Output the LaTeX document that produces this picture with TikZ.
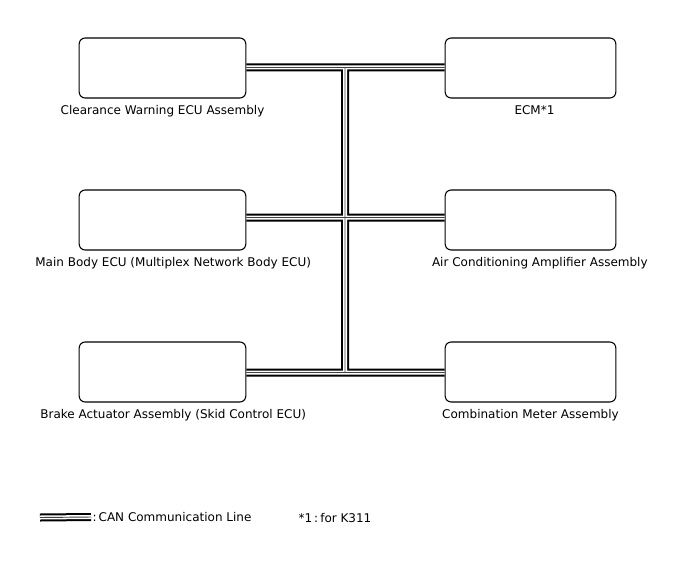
\documentclass[tikz,border=0pt]{standalone}
\usepackage{fontspec}
\setmainfont{DejaVu Sans}
\usepackage{tikz}
\usetikzlibrary{positioning, calc}

\begin{document}
\begin{tikzpicture}[
    x=0.75pt, y=-0.75pt,
    ecu/.style={rectangle, draw, rounded corners=4.5pt, line width=0.8pt,
                minimum width=125pt, minimum height=45pt, inner sep=0pt},
    lbl/.style={font=\fontsize{9}{11}\selectfont, inner sep=1pt}
]
\useasboundingbox (0,0) rectangle (688,560);
% centraline
\node[ecu] (cwe) at (162.5,68)  {};
\node[ecu] (mbe) at (162.5,220) {};
\node[ecu] (bae) at (162.5,372) {};
\node[ecu, minimum width=128pt] (ecm) at (530.5,68)  {};
\node[ecu, minimum width=128pt] (aca) at (530.5,220) {};
\node[ecu, minimum width=128pt] (cma) at (530.5,372) {};
% nomi
\node[lbl, below=4pt of cwe] (cwet) {Clearance Warning ECU Assembly};
\node[lbl, below=4pt of mbe, xshift=8pt] (mbet) {Main Body ECU (Multiplex Network Body ECU)};
\node[lbl, below=4pt of bae, xshift=8pt] (baet) {Brake Actuator Assembly (Skid Control ECU)};
\node[lbl, below=4pt of ecm, xshift=3pt] (ecmt) {ECM*1};
\node[lbl, below=4pt of aca, xshift=7pt] (acat) {Air Conditioning Amplifier Assembly};
\node[lbl, below=4pt of cma] (cmat) {Combination Meter Assembly};
% nodi del bus
\coordinate (j1) at (345,67.5);
\coordinate (j2) at (345,217.5);
\coordinate (j3) at (345,372.5);
% legenda
\coordinate (lgs) at (40,517.5);
\node[lbl, anchor=west] (lgd) at (91,517) {:\,CAN Communication Line};
\node[lbl, anchor=west] (note) at (297,518) {*1\,:\,for K311};
% linea CAN (nero, bianco, filo)
\foreach \w/\c in {6pt/black, 3pt/white, 0.7pt/black!75}{
    \draw[line width=\w, \c]
        (cwe.east |- j1) -- (ecm.west |- j1)
        (j1) -- (j3)
        (mbe.east |- j2) -- (aca.west |- j2)
        (bae.east |- j3) -- (cma.west |- j3)
        (lgs) -- (lgd.west);
}
\end{tikzpicture}
\end{document}
